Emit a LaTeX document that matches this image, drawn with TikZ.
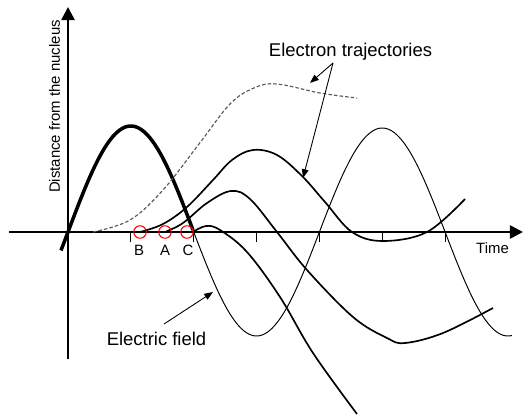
\documentclass[tikz,border=0pt]{standalone}
\usepackage{fontspec}
\setmainfont{Liberation Sans}
\usetikzlibrary{arrows.meta}

\begin{document}
\begin{tikzpicture}[>={Triangle[length=5pt,width=3.8pt]},
  every node/.style={font=\fontsize{10.5}{12}\selectfont, inner sep=0pt},
  axis/.style={line width=1.4pt, -{Triangle[length=7.5pt,width=7.5pt]}},
  traj/.style={line width=0.95pt},
  ion/.style={circle, draw=red, line width=0.6pt, minimum size=0.25cm}]
\useasboundingbox (-1.36,-3.64) rectangle (9.10,4.64);
\coordinate (xStart) at (-1.18,0);
\coordinate (xEnd)   at (9.10,0);
\coordinate (yStart) at (0,-2.54);
\coordinate (yEnd)   at (0,4.50);
\draw[axis] (xStart) -- (xEnd);
\draw[axis] (yStart) -- (yEnd);
\foreach \k in {1,...,6} \draw[line width=0.5pt] (1.2575*\k,0) -- ++(0,-0.19);
\draw[line width=2pt] plot[domain=-0.14:2.5, samples=60, smooth] (\x,{2.12*sin(71.6*\x)});
\draw[line width=0.55pt] plot[domain=2.5:8.88, samples=150, smooth] (\x,{2.08*sin(71.6*\x)});
\draw[gray!70!black, line width=0.65pt, dash pattern=on 2pt off 1.2pt] plot[smooth, tension=0.6] coordinates
  {(0.5,0) (1.24,0.24) (1.90,0.84) (2.62,1.76) (3.24,2.56) (3.72,2.88) (4.18,2.96) (5.04,2.78) (5.78,2.68)};
\draw[traj] plot[smooth, tension=0.6] coordinates
  {(1.44,0) (1.90,0.16) (2.38,0.50) (2.90,1.04) (3.28,1.44) (3.70,1.64) (4.18,1.54) (4.68,1.12)
   (5.14,0.60) (5.68,0) (6.30,-0.18) (7.18,0) (7.94,0.66)};
\draw[traj] plot[smooth, tension=0.6] coordinates
  {(1.94,0) (2.30,0.18) (2.78,0.58) (3.26,0.82) (3.64,0.66) (4.18,0)
   (4.78,-0.76) (5.70,-1.70) (6.38,-2.12) (6.74,-2.22) (7.50,-2.02) (8.50,-1.52)};
\draw[traj] plot[smooth, tension=0.6] coordinates
  {(2.50,0) (2.76,0.12) (3.04,0.04) (3.58,-0.40) (4.24,-1.30) (4.90,-2.42) (5.78,-3.64)};
\node[ion] (ionB) at (1.44,0) {};
\node[ion] (ionA) at (1.94,0) {};
\node[ion] (ionC) at (2.38,0) {};
\node[anchor=base, font=\fontsize{8.5}{10}\selectfont] (lblB) at (1.42,-0.46) {B};
\node[anchor=base, font=\fontsize{8.5}{10}\selectfont] (lblA) at (1.94,-0.46) {A};
\node[anchor=base, font=\fontsize{8.5}{10}\selectfont] (lblC) at (2.40,-0.46) {C};
\node[anchor=base, font=\fontsize{8.5}{10}\selectfont] (timeLbl) at (8.49,-0.42) {Time};
\node[anchor=base, rotate=90, font=\fontsize{8.5}{10}\selectfont] (distLbl) at (-0.16,2.51) {Distance from the nucleus};
\node[anchor=base] (trajLbl) at (5.65,3.50) {Electron trajectories};
\node[anchor=base] (fieldLbl) at (1.77,-2.26) {Electric field};
\coordinate (trajTail)  at (5.30,3.38);
\coordinate (tipDash)   at (4.84,2.98);
\coordinate (tipSolid)  at (4.70,1.08);
\coordinate (fieldTail) at (1.92,-1.84);
\coordinate (tipField)  at (2.90,-1.20);
\draw[->, line width=0.5pt] (trajTail) -- (tipDash);
\draw[->, line width=0.5pt] (trajTail) -- (tipSolid);
\draw[->, line width=0.5pt] (fieldTail) -- (tipField);
\end{tikzpicture}
\end{document}
